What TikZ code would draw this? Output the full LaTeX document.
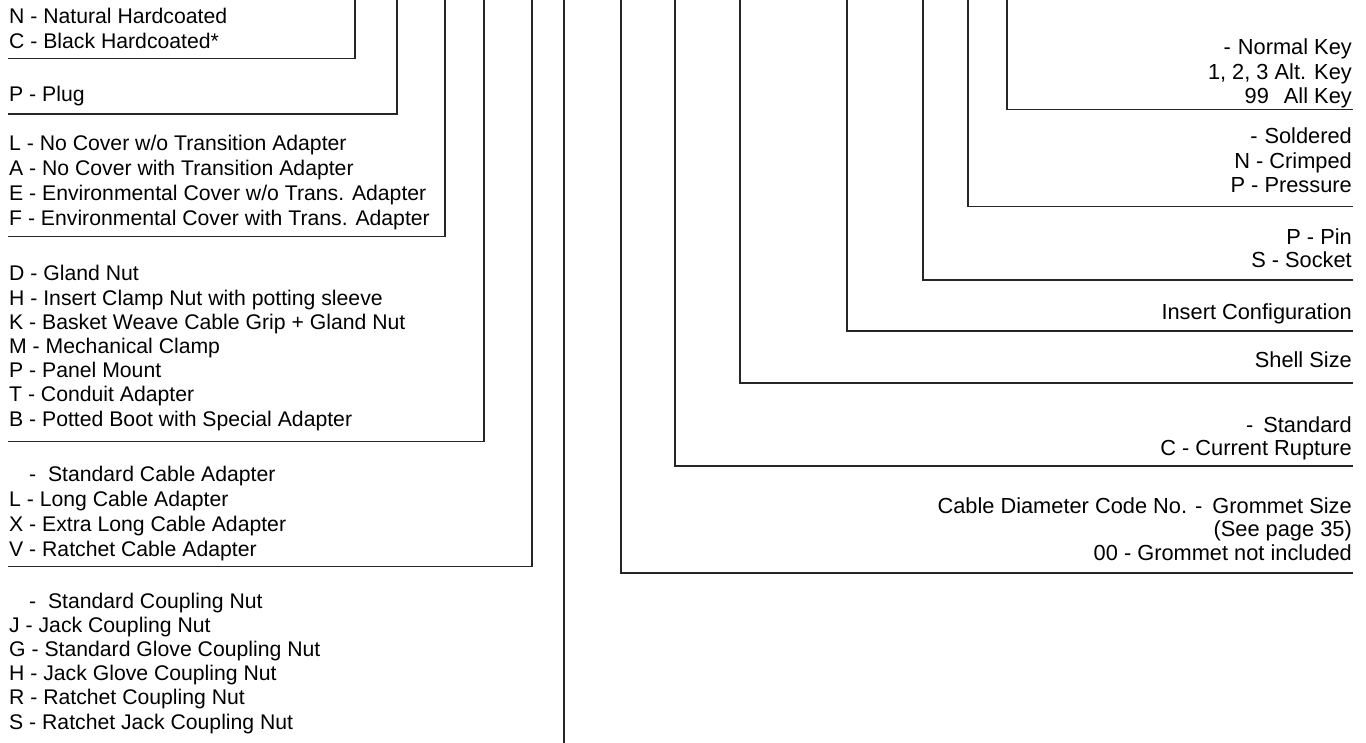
\documentclass[tikz,border=0pt]{standalone}
\usepackage{fontspec}
\setmainfont{Liberation Sans}

\tikzset{
  opt/.style={anchor=base west, inner sep=0pt, align=left, font=\fontsize{21.2}{#1}\selectfont},
  opt/.default=24.5,
  ropt/.style={anchor=base east, inner sep=0pt, align=right, font=\fontsize{21.8}{#1}\selectfont},
  ropt/.default=24.5,
  brk/.style={line width=1.3pt, black!85}
}

\begin{document}
\begin{tikzpicture}[x=1pt, y=-1pt]
  \useasboundingbox (0,0) rectangle (1366,743);
  % left-hand codes (placed at the baseline of their last line)
  \node[opt=25] (finish) at (9,49) {N - Natural Hardcoated\\C - Black Hardcoated*};
  \node[opt] (plug) at (9,102) {P - Plug};
  \node[opt=25] (cover) at (9,226) {L - No Cover w/o Transition Adapter\\A - No Cover with Transition Adapter\\E - Environmental Cover w/o Trans. Adapter\\F - Environmental Cover with Trans. Adapter};
  \node[opt=24.2] (nut) at (9,426) {D - Gland Nut\\H - Insert Clamp Nut with potting sleeve\\K - Basket Weave Cable Grip + Gland Nut\\M - Mechanical Clamp\\P - Panel Mount\\T - Conduit Adapter\\B - Potted Boot with Special Adapter};
  \node[opt=25] (adapter) at (9,556) {\hphantom{X} - \ Standard Cable Adapter\\L - Long Cable Adapter\\X - Extra Long Cable Adapter\\V - Ratchet Cable Adapter};
  \node[opt=24.2] (coupling) at (9,729) {\hphantom{X} - \ Standard Coupling Nut\\J - Jack Coupling Nut\\G - Standard Glove Coupling Nut\\H - Jack Glove Coupling Nut\\R - Ratchet Coupling Nut\\S - Ratchet Jack Coupling Nut};
  \foreach \n/\x/\y in {finish/355/58.5, plug/397/114, cover/445/236.5, nut/484/441.5, adapter/532/566.5}{
    \coordinate (\n-a) at (8,\y);
    \coordinate (\n-b) at (\x,0);
    \draw[brk] (\n-a) -| (\n-b);
  }
  \coordinate (coupling-b) at (564,0);
  \coordinate (coupling-a) at (564,743);
  \draw[brk] (coupling-b) -- (coupling-a);
  % right-hand codes
  \node[ropt] (key) at (1352,104) {-\hspace{7pt}Normal Key\\1, 2, 3 Alt. Key\\99\hspace{15pt}All Key};
  \node[ropt=24.5] (contact) at (1352,193) {-\hspace{7pt}Soldered\\N - Crimped\\P - Pressure};
  \node[ropt=23] (term) at (1352,268) {P - Pin\\S - Socket};
  \node[ropt] (insert) at (1352,320) {Insert Configuration};
  \node[ropt] (shell) at (1352,368) {Shell Size};
  \node[ropt=23] (rupture) at (1352,455) {-\hspace{10pt}Standard\\C - Current Rupture};
  \node[ropt=23.5] (cable) at (1352,560) {Cable Diameter Code No. -\hspace{10pt}Grommet Size\\(See page 35)\\00 - Grommet not included};
  \foreach \n/\x/\y in {key/1007/109.5, contact/968/206.5, term/923/280, insert/847/331, shell/740/383, rupture/675/466, cable/621/573}{
    \coordinate (\n-b) at (\x,0);
    \coordinate (\n-a) at (1353,\y);
    \draw[brk] (\n-b) |- (\n-a);
  }
\end{tikzpicture}
\end{document}
